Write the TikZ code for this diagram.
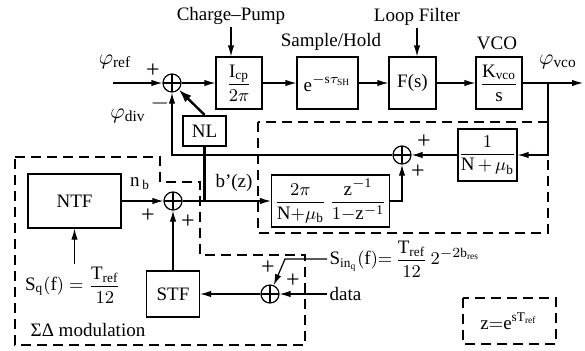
\documentclass[tikz,border=0pt]{standalone}
\usepackage{amsmath,amssymb}
\usepackage{fontspec}
\setmainfont{Liberation Serif}
\usetikzlibrary{arrows.meta}

\begin{document}
\begin{tikzpicture}[x=0.5pt, y=-0.5pt, line width=0.6pt,
	every node/.style={font=\fontsize{9.5}{11}\selectfont, inner sep=1pt},
	>={Latex[length=5.5pt,width=3.2pt]},
	block/.style={draw, minimum height=26pt, inner sep=0pt},
	sign/.style={font=\fontsize{12}{12}\selectfont},
	phase/.style={font=\fontsize{11}{12}\selectfont},
	sumj/.style={draw, circle, minimum size=9pt, inner sep=0pt,
		path picture={\draw (path picture bounding box.north) -- (path picture bounding box.south)
			(path picture bounding box.west) -- (path picture bounding box.east);}},
	dashbox/.style={dash pattern=on 5pt off 3pt}]
	\useasboundingbox (0,0) rectangle (585,350);
	\draw[dashbox] (15,157) -- (160,157) -- (160,182) -- (200,182) -- (200,255) -- (305,255) -- (305,345) -- (15,345) -- cycle;
	\draw[dashbox] (258,122) rectangle (548,233);
	\draw[dashbox] (463,298) rectangle (556,344);
	\node[block, minimum width=23pt] (cp) at (239,83) {$\dfrac{\mathrm{I_{cp}}}{2\pi}$};
	\node[block, minimum width=30.5pt] (sh) at (327.5,83) {$\mathrm{e}^{-\mathrm{s}\tau_{\mathrm{SH}}}$};
	\node[block, minimum width=23.5pt] (fs) at (412.5,83) {F(s)};
	\node[block, minimum width=23pt] (vco) at (499,83) {$\dfrac{\mathrm{K_{vco}}}{\mathrm{s}}$};
	\node[block, minimum width=29.5pt] (div) at (487.5,155) {$\dfrac{1}{\mathrm{N}{\,+\,}\mu_{\mathrm{b}}}$};
	\node[block, minimum width=52.5pt, inner xsep=1.5pt] (integ) at (330.5,201) {$\dfrac{2\pi}{\mathrm{N}{+}\mu_{\mathrm{b}}}\,\dfrac{\mathrm{z^{-1}}}{1{-}\mathrm{z^{-1}}}$};
	\node[block, minimum width=46.5pt, minimum height=27pt] (ntf) at (74.5,201) {NTF};
	\node[block, minimum width=26.5pt, minimum height=23pt] (stf) at (173,294) {STF};
	\node[block, line width=1.2pt, minimum width=21.5pt, minimum height=15pt] (nl) at (204.5,131) {NL};
	\node[sumj] (s1) at (172,83) {};
	\node[sumj] (s2) at (402,155) {};
	\node[sumj] (s3) at (173,201) {};
	\node[sumj] (s4) at (270,294) {};
	\node (cplab) at (231,16) {Charge--Pump};
	\node (shlab) at (331,42) {Sample/Hold};
	\node (lflab) at (417,17) {Loop Filter};
	\node (vcolab) at (497,43) {VCO};
	\node[phase] (phiref) at (115,62) {$\varphi_{\mathrm{ref}}$};
	\node[phase] (phidiv) at (128,116) {$\varphi_{\mathrm{div}}$};
	\node[phase] (phivco) at (558,62) {$\varphi_{\mathrm{vco}}$};
	\node (nb) at (140,184) {$\mathrm{n_{\,b}}$};
	\node (bz) at (234,183) {b’(z)};
	\node (sq) at (73,285) {$\mathrm{S_q(f)} = \dfrac{\mathrm{T_{ref}}}{12}$};
	\node[anchor=west] (sinq) at (327,259) {$\mathrm{S_{in_q}(f)} {=}\, \dfrac{\mathrm{T_{ref}}}{12}\,2^{-2\mathrm{b_{res}}}$};
	\node[anchor=west] (data) at (327,294) {data};
	\node (sdlab) at (88,330) {ΣΔ modulation};
	\node (zlab) at (509,321) {$\mathrm{z{=}e^{sT_{ref}}}$};
	\node[sign] (p1) at (153,71) {+};
	\node[sign] (m1) at (160,103) {$-$};
	\node[sign] (p2a) at (424,142) {+};
	\node[sign] (p2b) at (418,172) {+};
	\node[sign] (p3a) at (148,216) {+};
	\node[sign] (p3b) at (188,222) {+};
	\node[sign] (p4a) at (268,268) {+};
	\node[sign] (p4b) at (293,281) {+};
	\coordinate (in) at (113,83);
	\coordinate (br) at (548,83);
	\coordinate (out) at (583,83);
	\coordinate (kink) at (285,259);
	\draw[->] (cplab.south) -- (cplab.south |- cp.north);
	\draw[->] (lflab.south) -- (lflab.south |- fs.north);
	\draw[->] (in) -- (s1);
	\draw[->] (s1) -- (cp);
	\draw[->] (cp) -- (sh);
	\draw[->] (sh) -- (fs);
	\draw[->] (fs) -- (vco);
	\draw[->] (vco) -- (out);
	\draw[->] (br) |- (div);
	\draw[->] (div) -- (s2);
	\draw[->] (s2) -| (s1);
	\draw[->] (integ) -| (s2);
	\draw[line width=1.2pt, -{Latex[length=6.5pt,width=4.5pt]}] (nl.north) -- (s1);
	\draw[line width=1.2pt] (nl.south) -- (nl.south |- s3);
	\draw[->] (ntf) -- (s3);
	\draw[->] (s3) -- (integ);
	\draw[->] (ntf.south |- sq.north) -- (ntf.south);
	\draw[->] (stf) -- (s3);
	\draw[->] (s4) -- (stf);
	\draw[->] (data) -- (s4);
	\draw[->] (sinq.west) -- (kink) -- (s4);
\end{tikzpicture}
\end{document}
